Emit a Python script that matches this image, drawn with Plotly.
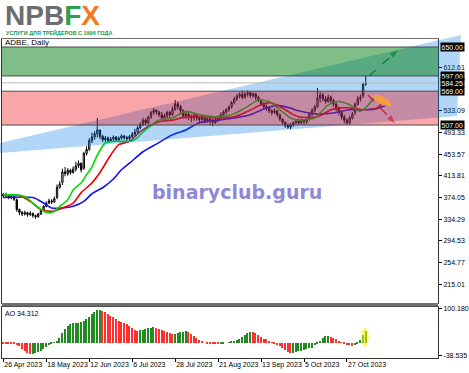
import math
import plotly.graph_objects as go

# ---------------- data ----------------
DATE_TICK_LABELS = ["26 Apr 2023", "18 May 2023", "12 Jun 2023", "6 Jul 2023", "28 Jul 2023",
                    "21 Aug 2023", "13 Sep 2023", "5 Oct 2023", "27 Oct 2023"]
DATE_TICK_BARS = [0, 16, 32, 48, 64, 80, 96, 112, 128]

OPEN = [380, 377, 379, 374, 376, 370, 352, 347, 344, 346,
        343, 345, 341, 339, 344, 351, 358, 364, 368, 366,
        374, 393, 402, 421, 418, 424, 420, 426, 432, 437,
        428, 455, 462, 478, 485, 491, 498, 486, 480, 483,
        478, 481, 485, 480, 483, 487, 484, 482, 486, 490,
        494, 502, 508, 516, 511, 522, 530, 534, 531, 526,
        520, 524, 530, 526, 536, 546, 541, 533, 524, 527,
        522, 520, 525, 520, 517, 521, 515, 518, 514, 512,
        516, 521, 526, 531, 535, 540, 548, 555, 560, 563,
        558, 564, 566, 561, 564, 558, 552, 546, 541, 537,
        533, 530, 533, 526, 518, 512, 506, 503, 507, 511,
        514, 511, 516, 513, 518, 527, 534, 540, 556, 562,
        555, 550, 558, 552, 545, 538, 530, 522, 516, 511,
        520, 530, 545, 555, 560, 582]
HIGH = [382, 383, 380, 379, 377, 372, 354, 349, 350, 348,
        349, 346, 343, 346, 353, 360, 367, 372, 371, 376,
        398, 404, 427, 430, 428, 427, 431, 440, 442, 438,
        458, 468, 483, 493, 496, 520, 498, 489, 487, 486,
        485, 488, 487, 486, 490, 489, 487, 489, 494, 500,
        505, 512, 520, 519, 524, 533, 538, 536, 533, 531,
        528, 533, 533, 541, 553, 550, 544, 536, 531, 531,
        526, 530, 528, 524, 526, 524, 522, 521, 518, 520,
        525, 530, 534, 538, 543, 551, 558, 564, 567, 570,
        567, 570, 568, 567, 566, 561, 555, 549, 545, 541,
        536, 538, 535, 528, 520, 514, 510, 511, 514, 518,
        519, 519, 518, 521, 530, 538, 544, 575, 568, 566,
        560, 563, 561, 555, 548, 541, 533, 526, 519, 524,
        531, 549, 560, 563, 585, 597]
LOW = [373, 375, 371, 371, 368, 348, 342, 340, 341, 339,
       340, 337, 335, 337, 342, 349, 356, 362, 362, 364,
       371, 390, 397, 413, 414, 416, 418, 422, 428, 420,
       425, 451, 460, 474, 480, 484, 481, 476, 476, 474,
       476, 478, 477, 478, 480, 480, 478, 479, 483, 487,
       490, 499, 505, 507, 509, 518, 526, 526, 522, 516,
       514, 519, 520, 524, 533, 535, 528, 519, 518, 516,
       512, 515, 515, 510, 513, 510, 511, 507, 505, 509,
       512, 518, 522, 527, 531, 537, 545, 551, 556, 554,
       555, 559, 556, 557, 553, 549, 542, 537, 533, 529,
       525, 527, 522, 514, 508, 502, 500, 499, 504, 508,
       507, 508, 507, 509, 515, 524, 530, 538, 548, 550,
       546, 548, 547, 541, 532, 525, 517, 510, 507, 508,
       517, 525, 543, 550, 557, 579]
CLOSE = [377, 379, 374, 376, 371, 352, 347, 344, 346, 343,
         345, 341, 339, 344, 351, 358, 364, 368, 366, 372,
         393, 399, 421, 418, 424, 420, 426, 432, 437, 425,
         455, 462, 478, 485, 491, 498, 486, 480, 483, 478,
         481, 485, 480, 483, 487, 484, 482, 486, 490, 494,
         502, 508, 516, 511, 522, 530, 534, 531, 526, 520,
         524, 530, 526, 536, 546, 541, 533, 524, 527, 522,
         520, 525, 520, 517, 521, 515, 518, 514, 512, 516,
         521, 526, 531, 535, 540, 548, 555, 560, 563, 558,
         564, 566, 561, 564, 558, 552, 546, 541, 537, 533,
         530, 533, 526, 518, 512, 506, 503, 507, 511, 514,
         511, 516, 513, 518, 527, 534, 540, 556, 562, 555,
         550, 558, 552, 545, 538, 530, 522, 516, 511, 520,
         527, 545, 555, 558, 582, 584.25]

# Alligator lines (bar index, price)
LIPS_BAR = [0, 4, 8, 11, 15, 17, 19, 21, 24, 26, 29, 31, 33, 35, 38, 41, 45, 48, 50, 52,
            55, 58, 63, 68, 73, 79, 85, 90, 95, 99, 103, 107, 110, 116, 121, 125, 129, 133, 136, 138]
LIPS = [379, 379, 376, 364, 349, 346, 349, 358, 370, 388, 401, 416, 430, 452, 474, 477, 477, 478, 484, 494,
        506, 516, 520, 532, 526, 522, 526, 538, 553, 550, 535, 520, 516, 520, 544, 550, 544, 532, 544, 557]
TEETH_BAR = [0, 6, 10, 14, 18, 22, 26, 29, 31, 33, 36, 40, 43, 47, 51, 55, 58, 63, 68, 73,
             79, 86, 91, 96, 99, 103, 107, 110, 117, 122, 125, 130, 134, 139, 141]
TEETH = [379, 378, 367, 352, 349, 355, 364, 383, 392, 401, 420, 452, 471, 477, 495, 507, 513, 516, 522, 522,
         520, 522, 532, 544, 548, 541, 529, 522, 522, 535, 538, 538, 535, 538, 547]
JAW_BAR = [0, 11, 15, 18, 22, 26, 30, 33, 37, 41, 44, 47, 52, 57, 63, 68, 73, 80, 86, 92,
           98, 102, 107, 110, 117, 123, 129, 135, 139, 143]
JAW = [374, 374, 364, 355, 355, 358, 367, 381, 392, 408, 425, 437, 458, 472, 489, 498, 511, 516, 520, 526,
       538, 543, 538, 533, 527, 529, 535, 535, 537, 544]

AO = [-2, -2, -3, -3, -4, -6, -11, -18, -25, -30,
      -34, -33, -32, -29, -25, -20, -14, -8, -3, 2,
      6, 15, 28, 40, 50, 55, 58, 59, 60, 62,
      65, 70, 76, 84, 92, 96, 97, 94, 90, 86,
      80, 75, 71, 66, 62, 58, 55, 50, 44, 39,
      36, 37, 39, 41, 43, 45, 46, 45, 42, 38,
      35, 31, 28, 25, 27, 30, 32, 33, 34, 31,
      26, 20, 13, 7, 3, 0, -2, -3, -4, -4,
      -5, -4, -2, 0, 2, 3, 5, 7, 10, 16,
      24, 30, 33, 32, 28, 22, 16, 12, 10, 6,
      2, -2, -6, -9, -15, -22, -28, -31, -30, -28,
      -26, -24, -22, -19, -17, -15, -8, -2, 6, 14,
      20, 21, 18, 14, 10, 6, 2, -2, -6, -8,
      -9, -8, -3, 8, 22, 34.312]
AO_LABEL = "AO 34.312"

PRICE_TICKS = [215.01, 254.77, 294.53, 334.29, 374.05, 413.81, 453.57, 493.33, 533.09, 612.61]
LEVEL_LINES = [650.00, 597.00, 569.00, 507.00]
CURRENT_PRICE = 584.25
AO_TICKS = [100.180, -38.535]
ZONE_UP = (597.00, 650.00)
ZONE_MID = (507.00, 569.00)

ARROW_UP = dict(x=[136.2, 147.0], y=[597.0, 644.5])
ARROW_DOWN = dict(x=[135.8, 145.9], y=[562.0, 510.4])

# ---------------- geometry ----------------
W, H = 469, 373
ML, MR, MT, MB = 2, 31, 39, 15
PW, PH = W - ML - MR, H - MT - MB


def px(x):
    return (x - ML) / PW


def py(y):
    return (H - MB - y) / PH


MAIN_DOMAIN = [py(303), 1.0]
AO_DOMAIN = [0.0, py(307)]
X_RANGE = [-0.5, 161.9]
Y_RANGE = [180.7, 664.7]
AO_RANGE = [-45.4, 106.1]

FONT = "Liberation Sans"

fig = go.Figure()
bars = list(range(len(CLOSE)))

fig.add_trace(go.Candlestick(
    x=bars, open=OPEN, high=HIGH, low=LOW, close=CLOSE,
    increasing=dict(line=dict(color="black", width=1), fillcolor="white"),
    decreasing=dict(line=dict(color="black", width=1), fillcolor="black"),
    whiskerwidth=0, xaxis="x", yaxis="y", showlegend=False, hoverinfo="skip"))

for bx, vals, col in [(JAW_BAR, JAW, "#1414f0"), (TEETH_BAR, TEETH, "#f00000"), (LIPS_BAR, LIPS, "#00dc00")]:
    fig.add_trace(go.Scatter(x=bx, y=vals, mode="lines",
                             line=dict(color=col, width=1.6, shape="spline", smoothing=0.7),
                             xaxis="x", yaxis="y", showlegend=False, hoverinfo="skip"))

for arr, col in [(ARROW_UP, "#1b8a1b"), (ARROW_DOWN, "#ff1e1e")]:
    fig.add_trace(go.Scatter(x=arr["x"], y=arr["y"], mode="lines+markers",
                             line=dict(color=col, width=1.4, dash="dash"),
                             marker=dict(symbol=["circle", "arrow"], size=[0, 9], angleref="previous",
                                         color=col, line=dict(width=0)),
                             xaxis="x", yaxis="y", showlegend=False, hoverinfo="skip"))

ao_colors = ["#ff3030" if i == 0 or AO[i] <= AO[i - 1] else "#228b22" for i in range(len(AO))]
fig.add_trace(go.Bar(x=bars, y=AO, marker=dict(color=ao_colors, line=dict(width=0)), width=0.55,
                     xaxis="x2", yaxis="y2", showlegend=False, hoverinfo="skip"))

# ---------------- shapes ----------------
shapes = []
wedge = [(0, 143), (461, 35), (457, 116), (0, 153)]
path = "M " + " L ".join(f"{px(x):.5f},{py(y):.5f}" for x, y in wedge) + " Z"
shapes.append(dict(type="path", path=path, xref="paper", yref="paper",
                   fillcolor="rgba(0,120,230,0.30)", line=dict(width=0), layer="above"))
shapes.append(dict(type="rect", xref="paper", yref="y", x0=0, x1=1, y0=ZONE_UP[0], y1=ZONE_UP[1],
                   fillcolor="rgba(0,125,15,0.50)", line=dict(width=0), layer="above"))
shapes.append(dict(type="rect", xref="paper", yref="y", x0=0, x1=1, y0=ZONE_MID[0], y1=ZONE_MID[1],
                   fillcolor="rgba(235,0,10,0.35)", line=dict(width=0), layer="above"))
for lv in LEVEL_LINES:
    shapes.append(dict(type="line", xref="paper", yref="y", x0=0, x1=1, y0=lv, y1=lv,
                       line=dict(color="#4a4a4a", width=1), layer="above"))
shapes.append(dict(type="line", xref="paper", yref="y", x0=0, x1=1, y0=CURRENT_PRICE, y1=CURRENT_PRICE,
                   line=dict(color="#b8b8b8", width=1), layer="above"))
shapes.append(dict(type="rect", xref="paper", yref="paper", x0=0, x1=1, y0=py(306.5), y1=py(303),
                   fillcolor="#6e6e6e", line=dict(width=0), layer="above"))
cx, cy, a, b, th = 382, 100.5, 10.0, 3.8, math.radians(28)
pts = []
for k in range(24):
    t = 2 * math.pi * k / 24
    X = cx + a * math.cos(t) * math.cos(th) - b * math.sin(t) * math.sin(th)
    Y = cy + a * math.cos(t) * math.sin(th) + b * math.sin(t) * math.cos(th)
    pts.append((X, Y))
blob = "M " + " L ".join(f"{px(x):.5f},{py(y):.5f}" for x, y in pts) + " Z"
shapes.append(dict(type="path", path=blob, xref="paper", yref="paper",
                   fillcolor="rgba(255,165,40,0.80)", line=dict(width=0), layer="above"))
shapes.append(dict(type="circle", xref="x2", yref="y2", x0=133.4, x1=136.1, y0=-12, y1=45,
                   fillcolor="rgba(255,235,0,0.55)", line=dict(width=0), layer="above"))

# ---------------- annotations ----------------
ann = []
ann.append(dict(xref="paper", yref="paper", x=px(3), y=py(15), xanchor="left", yanchor="middle",
                text="<b><span style='color:#6d6e71'>NPB</span><span style='color:#2f9e55'>F</span>"
                     "<span style='color:#f47920'>X</span></b>",
                font=dict(family=FONT, size=28), showarrow=False))
ann.append(dict(xref="paper", yref="paper", x=px(4), y=py(33), xanchor="left", yanchor="middle",
                text="<b>УСЛУГИ ДЛЯ ТРЕЙДЕРОВ С 1996 ГОДА</b>",
                font=dict(family=FONT, size=5.5, color="#1b9a4b"), showarrow=False))
ann.append(dict(xref="paper", yref="paper", x=px(3), y=py(43), xanchor="left", yanchor="middle",
                text="ADBE, Daily", font=dict(family=FONT, size=8, color="black"), showarrow=False))
ann.append(dict(xref="paper", yref="paper", x=px(236.5), y=py(192), xanchor="center", yanchor="middle",
                text="<b>binaryclub.guru</b>", font=dict(family="DejaVu Sans", size=19, color="#8e88d6"),
                showarrow=False))
ann.append(dict(xref="paper", yref="paper", x=px(3), y=py(313), xanchor="left", yanchor="middle",
                text=AO_LABEL, font=dict(family=FONT, size=7, color="black"), showarrow=False))
for lv in LEVEL_LINES + [CURRENT_PRICE]:
    ann.append(dict(xref="paper", yref="y", x=px(440), y=lv, xanchor="left", yanchor="middle",
                    text=f"{lv:.2f}", font=dict(family=FONT, size=7, color="white"),
                    bgcolor="black", borderpad=0.5, showarrow=False))

axis_common = dict(showgrid=False, zeroline=False, showline=True, mirror=True, fixedrange=True,
                   automargin=False)

fig.update_layout(
    width=W, height=H, margin=dict(l=ML, r=MR, t=MT, b=MB, autoexpand=False),
    paper_bgcolor="white", plot_bgcolor="white", showlegend=False, bargap=0,
    font=dict(family=FONT, size=7, color="black"),
    xaxis=dict(domain=[0, 1], anchor="y", range=X_RANGE, showticklabels=False, ticks="",
               linecolor="#707070", linewidth=1, rangeslider=dict(visible=False), **axis_common),
    yaxis=dict(domain=MAIN_DOMAIN, anchor="x", side="right", range=Y_RANGE,
               tickvals=PRICE_TICKS, ticktext=[f"{v:.2f}" for v in PRICE_TICKS],
               ticks="outside", ticklen=3, tickcolor="black", linecolor="#333333", linewidth=1,
               tickfont=dict(family=FONT, size=7, color="black"), **axis_common),
    xaxis2=dict(domain=[0, 1], anchor="y2", range=X_RANGE, tickvals=DATE_TICK_BARS,
                ticktext=DATE_TICK_LABELS, ticks="outside", ticklen=3, tickcolor="black",
                tickangle=0, ticklabelposition="outside right", linecolor="#333333", linewidth=1,
                tickfont=dict(family=FONT, size=7, color="black"), **axis_common),
    yaxis2=dict(domain=AO_DOMAIN, anchor="x2", side="right", range=AO_RANGE,
                tickvals=AO_TICKS, ticktext=["100.180", "-38.535"], ticks="outside", ticklen=3,
                tickcolor="black", linecolor="#333333", linewidth=1,
                tickfont=dict(family=FONT, size=7, color="black"), **axis_common),
    shapes=shapes, annotations=ann,
)

fig.write_html("out.html", config={"displayModeBar": False})
